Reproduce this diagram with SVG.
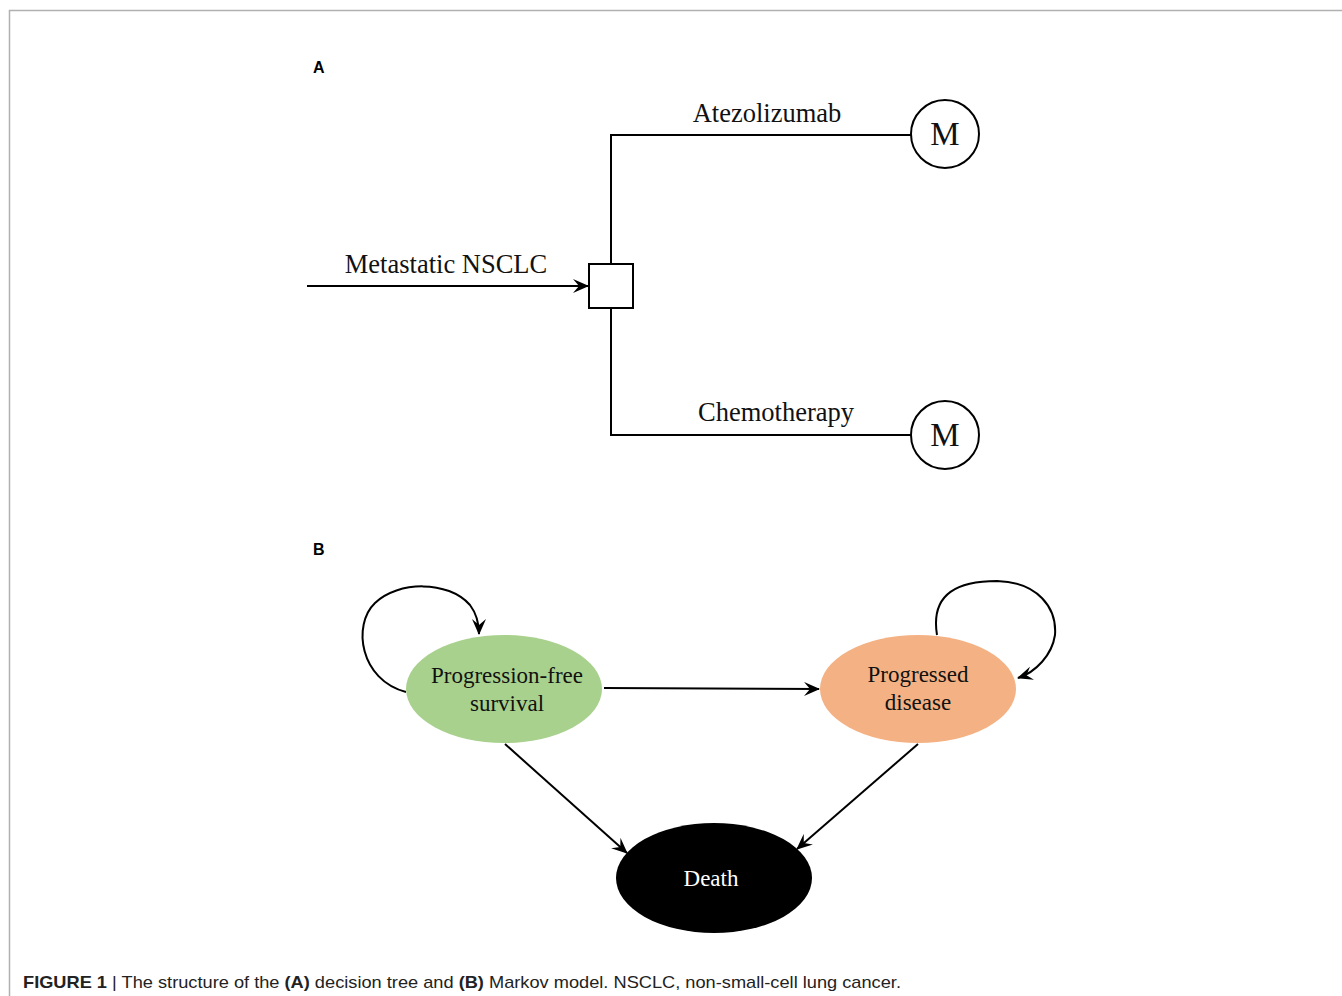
<svg xmlns="http://www.w3.org/2000/svg" width="1342" height="996" viewBox="0 0 1342 996">
<style>
.ln{fill:none;stroke:#000;stroke-width:2}
.lbl{font-family:"Liberation Serif","Times New Roman",serif;font-size:26.5px;fill:#111;text-anchor:middle}
.st{font-family:"Liberation Serif","Times New Roman",serif;font-size:23px;fill:#111;text-anchor:middle}
.pl{font-family:"Liberation Sans",Arial,sans-serif;font-size:16px;font-weight:bold;fill:#000}
</style>
<defs>
<marker id="ah" viewBox="0 0 16 14" refX="15" refY="7" markerWidth="16" markerHeight="14" markerUnits="userSpaceOnUse" orient="auto">
<path d="M0,0 L16,7 L0,14 L6,7 z" fill="#000"/>
</marker>
</defs>
<rect width="1342" height="996" fill="#fff"/>
<path d="M1342 10.5 H9.5 V996" fill="none" stroke="#b0b0b0" stroke-width="1.5"/>
<text class="pl" x="313" y="73">A</text>
<text class="pl" x="313" y="555">B</text>
<g id="connectors">
<line class="ln" x1="307" y1="286" x2="588" y2="286" marker-end="url(#ah)"/>
<polyline class="ln" points="611,264 611,135 911,135"/>
<polyline class="ln" points="611,308 611,435 911,435"/>
<line class="ln" x1="604" y1="688" x2="819" y2="689" marker-end="url(#ah)"/>
<line class="ln" x1="505" y1="744" x2="627" y2="853" marker-end="url(#ah)"/>
<line class="ln" x1="918" y1="744" x2="797" y2="849" marker-end="url(#ah)"/>
<path class="ln" d="M406 692 C360 680 352 625 375 603 C398 581 448 580 470 605 C476 613 479 622 479 634" marker-end="url(#ah)"/>
<path class="ln" d="M937 635 C930 592 960 581 997 581 C1038 582 1057 608 1055 635 C1052 655 1036 672 1018 678" marker-end="url(#ah)"/>
</g>
<text class="lbl" x="446" y="273">Metastatic NSCLC</text>
<text class="lbl" x="767" y="122">Atezolizumab</text>
<text class="lbl" x="776" y="421">Chemotherapy</text>
<g id="decision">
<rect x="589" y="264" width="44" height="44" fill="#fff" stroke="#000" stroke-width="2"/>
</g>
<g id="m1">
<circle cx="945" cy="134" r="34" fill="#fff" stroke="#000" stroke-width="2"/>
<text class="lbl" x="945" y="145" style="font-size:33px">M</text>
</g>
<g id="m2">
<circle cx="945" cy="435" r="34" fill="#fff" stroke="#000" stroke-width="2"/>
<text class="lbl" x="945" y="446" style="font-size:33px">M</text>
</g>
<g id="pfs">
<ellipse cx="504" cy="689" rx="98" ry="54" fill="#a9d18e"/>
<text class="st" x="507" y="683">Progression-free</text>
<text class="st" x="507" y="711">survival</text>
</g>
<g id="pd">
<ellipse cx="918" cy="689" rx="98" ry="54" fill="#f4b183"/>
<text class="st" x="918" y="682">Progressed</text>
<text class="st" x="918" y="710">disease</text>
</g>
<g id="death">
<ellipse cx="714" cy="878" rx="98" ry="55" fill="#000"/>
<text class="st" x="711" y="886" style="fill:#fff">Death</text>
</g>
<text x="23" y="988" font-family="'Liberation Sans',Arial,sans-serif" font-size="17" fill="#222" textLength="878" lengthAdjust="spacingAndGlyphs"><tspan font-weight="bold">FIGURE 1</tspan> | The structure of the <tspan font-weight="bold">(A)</tspan> decision tree and <tspan font-weight="bold">(B)</tspan> Markov model. NSCLC, non-small-cell lung cancer.</text>
</svg>
